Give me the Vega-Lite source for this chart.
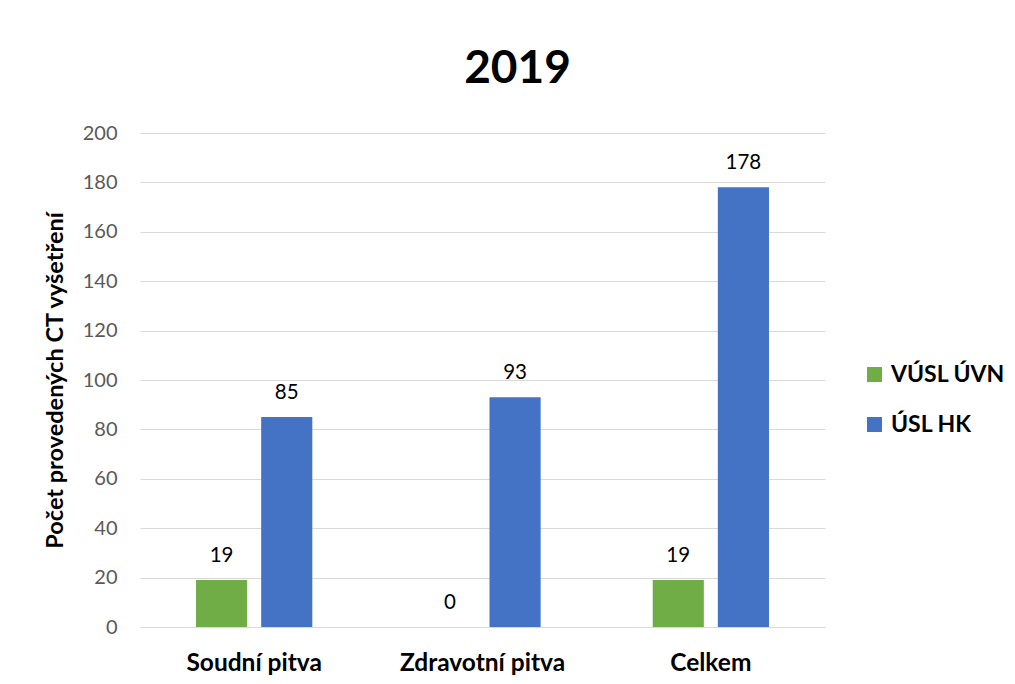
{
  "$schema": "https://vega.github.io/schema/vega-lite/v6.json",
  "autosize": "none",
  "width": 685,
  "height": 494,
  "padding": {"left": 140, "top": 133, "right": 190, "bottom": 57},
  "background": "white",
  "config": {"view": {"stroke": null}, "font": "Lato"},
  "title": {"text": "2019", "fontSize": 46, "fontWeight": "bold", "color": "#000000", "anchor": "middle", "frame": "group", "dx": 35, "offset": 30, "font": "Lato"},
  "data": {"values": [
    {"category": "Soudní pitva", "series": "VÚSL ÚVN", "value": 19},
    {"category": "Soudní pitva", "series": "ÚSL HK", "value": 85},
    {"category": "Zdravotní pitva", "series": "VÚSL ÚVN", "value": 0},
    {"category": "Zdravotní pitva", "series": "ÚSL HK", "value": 93},
    {"category": "Celkem", "series": "VÚSL ÚVN", "value": 19},
    {"category": "Celkem", "series": "ÚSL HK", "value": 178}
  ]},
  "encoding": {
    "x": {"field": "category", "type": "nominal", "sort": ["Soudní pitva", "Zdravotní pitva", "Celkem"],
      "scale": {"paddingInner": 0, "paddingOuter": 0},
      "axis": {"title": null, "labelAngle": 0, "labelFontSize": 24.5, "labelFontWeight": "bold", "labelColor": "#000000", "labelBaseline": "alphabetic", "labelPadding": 43, "ticks": false, "domain": true, "domainColor": "#d9d9d9", "labelFont": "Lato"}},
    "xOffset": {"field": "series", "type": "nominal", "sort": ["VÚSL ÚVN", "ÚSL HK"], "scale": {"paddingInner": 0.215, "paddingOuter": 0.86}},
    "y": {"field": "value", "type": "quantitative", "scale": {"domain": [0, 200]},
      "axis": {"values": [0, 20, 40, 60, 80, 100, 120, 140, 160, 180, 200], "labelFontSize": 20, "labelColor": "#595959", "labelPadding": 23, "ticks": false, "domain": false, "gridColor": "#d9d9d9", "gridWidth": 1,
        "title": "Počet provedených CT vyšetření", "titleFontSize": 23.5, "titleFontWeight": "bold", "titleColor": "#000000", "titlePadding": 15, "labelFont": "Lato", "titleFont": "Lato"}}
  },
  "layer": [
    {"mark": {"type": "bar"},
     "encoding": {"color": {"field": "series", "type": "nominal", "sort": ["VÚSL ÚVN", "ÚSL HK"],
       "scale": {"domain": ["VÚSL ÚVN", "ÚSL HK"], "range": ["#70AD47", "#4472C4"]},
       "legend": {"title": null, "orient": "none", "legendX": 723, "legendY": 230, "symbolType": "square", "symbolSize": 225, "symbolStrokeWidth": 0,
         "labelFontSize": 23, "labelFontWeight": "bold", "labelColor": "#000000", "labelOffset": 5, "rowPadding": 26, "labelFont": "Lato"}}}},
    {"mark": {"type": "text", "dy": -18, "baseline": "alphabetic", "fontSize": 20.5, "color": "#000000", "font": "Lato"},
     "encoding": {"text": {"field": "value", "type": "quantitative"}}}
  ]
}
